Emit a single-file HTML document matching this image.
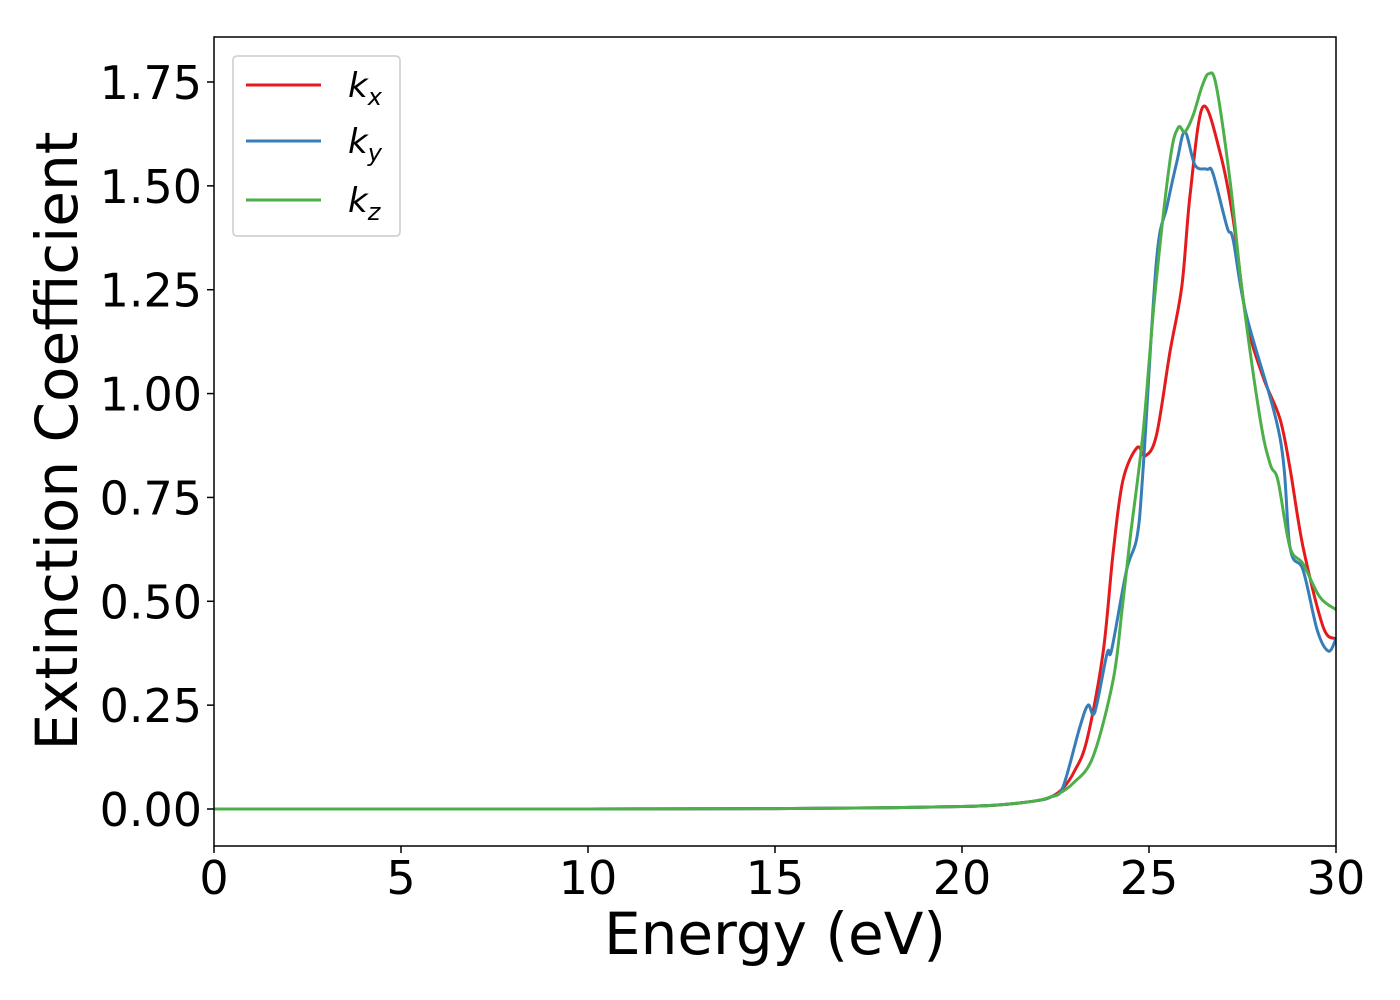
<!DOCTYPE html>
<html><head><meta charset="utf-8"><style>body{margin:0;background:#fff}svg{display:block;font-family:"DejaVu Sans","Liberation Sans",sans-serif}</style></head>
<body>
<svg id="chart" width="1400" height="1000" viewBox="0 0 1400 1000">
<rect x="0" y="0" width="1400" height="1000" fill="#fff"/>
<g id="plot"></g>
<g id="axes"></g>
<text x="775" y="954" font-size="58" text-anchor="middle">Energy (eV)</text>
<text transform="translate(77,441) rotate(-90)" font-size="58" text-anchor="middle">Extinction Coefficient</text>
<g>
<rect x="233" y="56" width="167" height="180" rx="4" fill="#fff" stroke="#ccc" stroke-width="1.5"/>
<g><line x1="246" y1="85" x2="321" y2="85" stroke="#e41a1c" stroke-width="3"/><text x="348" y="97" font-size="34" font-style="italic">k<tspan font-size="24" dy="8">x</tspan></text></g>
<g><line x1="246" y1="141" x2="321" y2="141" stroke="#377eb8" stroke-width="3"/><text x="348" y="153" font-size="34" font-style="italic">k<tspan font-size="24" dy="8">y</tspan></text></g>
<g><line x1="246" y1="200" x2="321" y2="200" stroke="#4daf4a" stroke-width="3"/><text x="348" y="212" font-size="34" font-style="italic">k<tspan font-size="24" dy="8">z</tspan></text></g>
</g>
</svg>
<script>
const xTicks=[0,5,10,15,20,25,30];
const yTicks=[0,0.25,0.5,0.75,1.0,1.25,1.5,1.75];
const yTickLabels=["0.00","0.25","0.50","0.75","1.00","1.25","1.50","1.75"];
const base=[[0,0],[5,0],[10,0],[15,0.001],[18,0.003],[20,0.006],[21,0.01],[22,0.02],[22.4,0.03]];
const kxE=[22.7,23.0,23.34,23.77,24.04,24.3,24.68,24.9,25.2,25.56,25.88,26.1,26.44,26.9,27.25,27.6,28.05,28.5,28.77,29.12,29.65,29.97,30];
const kxV=[0.05,0.09,0.166,0.375,0.616,0.79,0.87,0.85,0.90,1.10,1.26,1.48,1.69,1.58,1.42,1.18,1.04,0.94,0.82,0.63,0.44,0.41,0.41];
const kyE=[22.7,23.15,23.37,23.55,23.88,24.0,24.4,24.68,24.84,25.2,25.48,25.75,25.96,26.23,26.55,26.71,27.09,27.25,27.6,28.5,28.77,29.12,29.5,29.8,30];
const kyV=[0.053,0.197,0.25,0.233,0.375,0.383,0.575,0.655,0.815,1.32,1.45,1.56,1.63,1.55,1.54,1.53,1.40,1.37,1.19,0.895,0.63,0.575,0.43,0.38,0.41];
const kzE=[22.54,22.97,23.5,24.04,24.28,24.5,24.84,25.16,25.56,25.78,25.96,26.18,26.42,26.6,26.8,27.17,27.5,27.97,28.24,28.45,28.77,29.12,29.57,30];
const kzV=[0.034,0.062,0.125,0.31,0.48,0.655,0.905,1.24,1.56,1.64,1.63,1.67,1.74,1.77,1.74,1.51,1.24,0.94,0.83,0.79,0.63,0.59,0.51,0.48];
const X0=214,X1=1336,Y0=37,Y1=846;
const xs=v=>X0+(v-0)/30*(X1-X0);
const ys=v=>809-v*(809-82)/1.75;
const NS='http://www.w3.org/2000/svg';
function mk(t,a,p){const e=document.createElementNS(NS,t);for(const k in a)e.setAttribute(k,a[k]);p.appendChild(e);return e;}
function path(pts){let d=`M${pts[0][0]},${pts[0][1]}`;for(let i=0;i<pts.length-1;i++){const p0=pts[Math.max(0,i-1)],p1=pts[i],p2=pts[i+1],p3=pts[Math.min(pts.length-1,i+2)];d+=` C${p1[0]+(p2[0]-p0[0])/6},${p1[1]+(p2[1]-p0[1])/6} ${p2[0]-(p3[0]-p1[0])/6},${p2[1]-(p3[1]-p1[1])/6} ${p2[0]},${p2[1]}`;}return d;}
const plot=document.getElementById('plot'),axes=document.getElementById('axes');
const clip=mk('clipPath',{id:'c'},document.getElementById('chart'));mk('rect',{x:X0,y:Y0,width:X1-X0,height:Y1-Y0},clip);
[[kxE,kxV,'#e41a1c','series-kx'],[kyE,kyV,'#377eb8','series-ky'],[kzE,kzV,'#4daf4a','series-kz']].forEach(([E,V,c,n])=>{
 const pts=base.map(p=>[xs(p[0]),ys(p[1])]).concat(E.map((e,i)=>[xs(e),ys(V[i])]));
 const p=mk('path',{d:path(pts),fill:'none',stroke:c,'stroke-width':3,'clip-path':'url(#c)'},plot);
 
 
});
const fr=mk('rect',{x:X0,y:Y0,width:X1-X0,height:Y1-Y0,fill:'none',stroke:'#000','stroke-width':1.5},axes);


xTicks.forEach(t=>{const x=xs(t);mk('line',{x1:x,y1:Y1,x2:x,y2:Y1+7,stroke:'#000','stroke-width':1.5},axes);
 const tx=mk('text',{x:x,y:894,'font-size':46,'text-anchor':'middle'},axes);tx.textContent=t;
 
 });
yTicks.forEach((t,i)=>{const y=ys(t);mk('line',{x1:X0-7,y1:y,x2:X0,y2:y,stroke:'#000','stroke-width':1.5},axes);
 const tx=mk('text',{x:202,y:y+17,'font-size':46,'text-anchor':'end'},axes);tx.textContent=yTickLabels[i];
 
 });
</script>
</body></html>
